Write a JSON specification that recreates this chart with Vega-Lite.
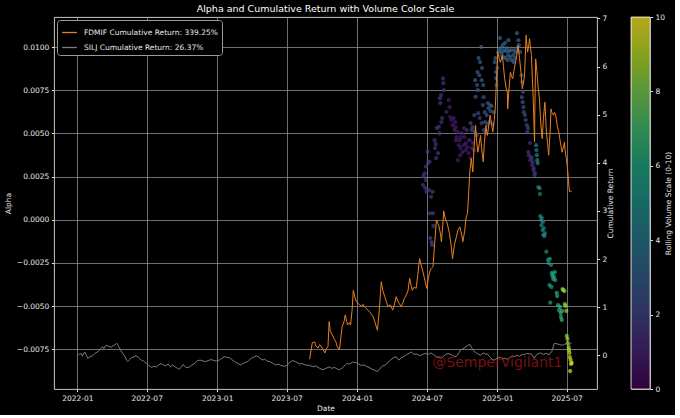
{
"$schema": "https://vega.github.io/schema/vega-lite/v6.json",
"background": "#000000",
"padding": {"left": 4, "top": 3, "right": 2, "bottom": 2},
"bounds": "flush",
"spacing": 34,
"config": {
  "font": "DejaVu Sans",
  "view": {"stroke": "#dddddd", "strokeWidth": 0.9},
  "axis": {"labelColor": "#e8e8e8", "titleColor": "#e8e8e8", "labelFontSize": 7.5, "titleFontSize": 7.5, "titleFontWeight": "normal", "tickColor": "#dddddd", "domainColor": "#dddddd", "tickSize": 2.6, "labelPadding": 2.5, "gridColor": "#8c8c8c", "gridWidth": 0.8, "domain": false},
  "legend": {"labelColor": "#e8e8e8", "labelFontSize": 7.5}
},
"datasets": {
"alpha": [
{"d":"2024-06-21","a":0.00201,"v":1.6},{"d":"2024-06-22","a":0.00253,"v":1.6},{"d":"2024-06-25","a":0.00269,"v":1.6},{"d":"2024-06-27","a":0.00183,"v":1.6},{"d":"2024-06-28","a":0.00230,"v":1.6},{"d":"2024-06-29","a":0.00307,"v":1.6},{"d":"2024-06-30","a":0.00162,"v":1.6},{"d":"2024-07-03","a":0.00394,"v":1.7},{"d":"2024-07-04","a":0.00328,"v":1.6},{"d":"2024-07-07","a":0.00172,"v":1.6},{"d":"2024-07-08","a":0.00336,"v":1.6},{"d":"2024-07-09","a":0.00037,"v":1.8},{"d":"2024-07-10","a":-0.00106,"v":1.8},{"d":"2024-07-12","a":0.00133,"v":1.7},{"d":"2024-07-13","a":-0.00129,"v":1.8},{"d":"2024-07-15","a":-0.00146,"v":1.8},{"d":"2024-07-16","a":0.00162,"v":1.7},{"d":"2024-07-17","a":0.00037,"v":1.8},{"d":"2024-07-18","a":-0.00036,"v":1.8},{"d":"2024-07-21","a":0.00461,"v":1.5},{"d":"2024-07-22","a":0.00415,"v":1.5},{"d":"2024-07-24","a":0.00438,"v":1.5},{"d":"2024-07-25","a":0.00357,"v":1.5},{"d":"2024-07-27","a":0.00531,"v":1.5},{"d":"2024-07-30","a":0.00386,"v":1.5},{"d":"2024-08-01","a":0.00538,"v":1.5},{"d":"2024-08-03","a":0.00500,"v":1.5},{"d":"2024-08-04","a":0.00704,"v":1.4},{"d":"2024-08-05","a":0.00675,"v":1.4},{"d":"2024-08-07","a":0.00722,"v":1.4},{"d":"2024-08-08","a":0.00565,"v":1.4},{"d":"2024-08-10","a":0.00589,"v":1.4},{"d":"2024-08-12","a":0.00818,"v":1.4},{"d":"2024-08-13","a":0.00791,"v":1.4},{"d":"2024-08-14","a":0.00751,"v":1.4},{"d":"2024-08-21","a":0.00625,"v":1.0},{"d":"2024-08-27","a":0.00693,"v":0.9},{"d":"2024-08-29","a":0.00652,"v":0.9},
{"d":"2024-08-31","a":0.00594,"v":0.7},{"d":"2024-09-03","a":0.00577,"v":0.7},{"d":"2024-09-06","a":0.00548,"v":0.7},{"d":"2024-09-09","a":0.00589,"v":0.7},{"d":"2024-09-11","a":0.00519,"v":0.7},{"d":"2024-09-13","a":0.00565,"v":0.7},{"d":"2024-09-14","a":0.00536,"v":0.7},{"d":"2024-09-15","a":0.00461,"v":0.7},{"d":"2024-09-17","a":0.00479,"v":0.7},{"d":"2024-09-19","a":0.00508,"v":0.7},{"d":"2024-09-20","a":0.00345,"v":0.8},{"d":"2024-09-22","a":0.00432,"v":0.7},{"d":"2024-09-24","a":0.00461,"v":0.7},{"d":"2024-09-26","a":0.00374,"v":0.8},{"d":"2024-09-27","a":0.00415,"v":0.7},{"d":"2024-09-28","a":0.00479,"v":0.7},{"d":"2024-09-30","a":0.00502,"v":0.7},{"d":"2024-10-02","a":0.00392,"v":0.8},{"d":"2024-10-05","a":0.00432,"v":0.7},{"d":"2024-10-06","a":0.00531,"v":0.8},{"d":"2024-10-07","a":0.00479,"v":0.7},{"d":"2024-10-10","a":0.00403,"v":0.7},{"d":"2024-10-11","a":0.00444,"v":0.7},{"d":"2024-10-13","a":0.00519,"v":1.3},{"d":"2024-10-15","a":0.00421,"v":0.8},{"d":"2024-10-18","a":0.00386,"v":0.8},{"d":"2024-10-20","a":0.00461,"v":1.3},{"d":"2024-10-23","a":0.00357,"v":0.8},{"d":"2024-10-26","a":0.00415,"v":0.8},{"d":"2024-10-29","a":0.00444,"v":1.1},{"d":"2024-11-01","a":0.00403,"v":1.1},
{"d":"2024-10-23","a":0.00560,"v":2.2},{"d":"2024-10-26","a":0.00519,"v":2.2},{"d":"2024-10-28","a":0.00536,"v":2.3},{"d":"2024-11-02","a":0.00606,"v":2.5},{"d":"2024-11-03","a":0.00508,"v":2.3},{"d":"2024-11-04","a":0.00808,"v":2.8},{"d":"2024-11-05","a":0.00712,"v":2.7},{"d":"2024-11-08","a":0.00490,"v":2.3},{"d":"2024-11-09","a":0.00780,"v":2.8},{"d":"2024-11-10","a":0.00855,"v":2.9},{"d":"2024-11-11","a":0.00751,"v":2.8},{"d":"2024-11-12","a":0.00617,"v":2.1},{"d":"2024-11-13","a":0.00936,"v":3.0},{"d":"2024-11-15","a":0.00837,"v":2.9},{"d":"2024-11-16","a":0.00589,"v":2.0},{"d":"2024-11-17","a":0.00913,"v":3.0},{"d":"2024-11-20","a":0.01001,"v":3.1},{"d":"2024-11-21","a":0.00560,"v":2.0},{"d":"2024-11-21","a":0.00808,"v":2.9},{"d":"2024-11-22","a":0.00878,"v":2.9},{"d":"2024-11-24","a":0.00664,"v":2.7},{"d":"2024-11-25","a":0.00780,"v":2.8},{"d":"2024-11-26","a":0.00710,"v":2.7},{"d":"2024-11-27","a":0.00519,"v":2.4},{"d":"2024-11-29","a":0.00623,"v":2.6},{"d":"2024-11-30","a":0.00565,"v":2.5},{"d":"2024-12-01","a":0.00502,"v":2.4},{"d":"2024-12-04","a":0.00606,"v":2.7},{"d":"2024-12-07","a":0.00675,"v":2.8},{"d":"2024-12-08","a":0.00554,"v":2.6},{"d":"2024-12-09","a":0.00646,"v":2.8},{"d":"2024-12-12","a":0.00565,"v":2.7},{"d":"2024-12-13","a":0.00664,"v":2.8},{"d":"2024-12-14","a":0.00629,"v":2.8},{"d":"2024-12-17","a":0.00658,"v":2.9},{"d":"2024-12-20","a":0.00554,"v":2.8},{"d":"2024-12-22","a":0.00623,"v":2.9},{"d":"2024-12-25","a":0.00913,"v":3.1},{"d":"2024-12-27","a":0.00936,"v":3.1},{"d":"2024-12-28","a":0.00855,"v":3.0},{"d":"2024-12-29","a":0.00820,"v":3.0},{"d":"2024-12-30","a":0.00780,"v":3.0},
{"d":"2025-01-01","a":0.00878,"v":3.1},{"d":"2025-01-03","a":0.00970,"v":3.1},{"d":"2025-01-05","a":0.00982,"v":3.2},{"d":"2025-01-08","a":0.01052,"v":3.2},{"d":"2025-01-10","a":0.00994,"v":3.2},{"d":"2025-01-12","a":0.00953,"v":3.2},{"d":"2025-01-13","a":0.00970,"v":3.2},{"d":"2025-01-15","a":0.01011,"v":3.2},{"d":"2025-01-17","a":0.00942,"v":3.2},{"d":"2025-01-18","a":0.00982,"v":3.2},{"d":"2025-01-21","a":0.01023,"v":3.2},{"d":"2025-01-22","a":0.00936,"v":3.2},{"d":"2025-01-24","a":0.00976,"v":3.2},{"d":"2025-01-26","a":0.00994,"v":3.2},{"d":"2025-01-28","a":0.00924,"v":3.1},{"d":"2025-01-29","a":0.00953,"v":3.1},{"d":"2025-01-30","a":0.01040,"v":3.2},{"d":"2025-02-01","a":0.00976,"v":3.1},{"d":"2025-02-03","a":0.00942,"v":3.1},{"d":"2025-02-05","a":0.00982,"v":3.1},{"d":"2025-02-08","a":0.00924,"v":3.1},{"d":"2025-02-11","a":0.00953,"v":3.1},{"d":"2025-02-12","a":0.00913,"v":3.0},{"d":"2025-02-13","a":0.00982,"v":3.1},{"d":"2025-02-16","a":0.00936,"v":3.0},{"d":"2025-02-18","a":0.00970,"v":3.0},{"d":"2025-02-21","a":0.01080,"v":3.1},{"d":"2025-02-22","a":0.00994,"v":3.0},{"d":"2025-02-25","a":0.01040,"v":3.0},{"d":"2025-02-26","a":0.01011,"v":3.0},{"d":"2025-03-01","a":0.00972,"v":3.0},
{"d":"2025-03-05","a":0.00837,"v":2.9},{"d":"2025-03-06","a":0.00710,"v":2.6},{"d":"2025-03-07","a":0.00797,"v":2.8},{"d":"2025-03-08","a":0.00681,"v":2.5},{"d":"2025-03-09","a":0.00741,"v":2.6},{"d":"2025-03-10","a":0.00652,"v":2.4},{"d":"2025-03-11","a":0.00623,"v":2.4},{"d":"2025-03-14","a":0.00606,"v":2.3},{"d":"2025-03-16","a":0.00577,"v":2.2},{"d":"2025-03-19","a":0.00548,"v":2.1},{"d":"2025-03-20","a":0.00508,"v":2.0},{"d":"2025-03-22","a":0.00531,"v":2.0},{"d":"2025-03-23","a":0.00392,"v":1.4},{"d":"2025-03-24","a":0.00374,"v":1.4},{"d":"2025-03-27","a":0.00444,"v":1.3},{"d":"2025-03-28","a":0.00345,"v":1.4},{"d":"2025-03-29","a":0.00363,"v":1.4},{"d":"2025-04-01","a":0.00357,"v":1.4},{"d":"2025-04-02","a":0.00317,"v":1.4},{"d":"2025-04-03","a":0.00334,"v":1.5},{"d":"2025-04-05","a":0.00288,"v":1.5},{"d":"2025-04-06","a":0.00299,"v":1.5},{"d":"2025-04-08","a":0.00259,"v":1.5},{"d":"2025-04-09","a":0.00270,"v":1.6},
{"d":"2025-04-12","a":0.00432,"v":4.3},{"d":"2025-04-13","a":0.00403,"v":4.3},{"d":"2025-04-14","a":0.00374,"v":4.4},{"d":"2025-04-15","a":0.00345,"v":4.4},{"d":"2025-04-16","a":0.00328,"v":4.4},{"d":"2025-04-18","a":0.00189,"v":4.5},{"d":"2025-04-21","a":0.00183,"v":4.5},{"d":"2025-04-22","a":0.00149,"v":4.5},{"d":"2025-04-23","a":0.00021,"v":4.5},{"d":"2025-04-25","a":-0.00002,"v":4.6},{"d":"2025-04-26","a":-0.00031,"v":4.6},{"d":"2025-04-27","a":0.00010,"v":4.6},{"d":"2025-04-29","a":-0.00060,"v":4.6},{"d":"2025-04-30","a":-0.00013,"v":4.6},{"d":"2025-05-01","a":-0.00089,"v":4.7},{"d":"2025-05-02","a":-0.00048,"v":4.7},{"d":"2025-05-04","a":-0.00094,"v":4.7},{"d":"2025-05-05","a":-0.00077,"v":4.8},{"d":"2025-05-09","a":-0.00185,"v":5.0},{"d":"2025-05-13","a":-0.00233,"v":5.2},{"d":"2025-05-15","a":-0.00251,"v":5.3},{"d":"2025-05-18","a":-0.00227,"v":5.3},{"d":"2025-05-21","a":-0.00262,"v":5.4},
{"d":"2025-05-17","a":-0.00378,"v":5.6},{"d":"2025-05-19","a":-0.00480,"v":5.7},{"d":"2025-05-22","a":-0.00389,"v":5.7},{"d":"2025-05-23","a":-0.00308,"v":5.8},{"d":"2025-05-24","a":-0.00326,"v":5.8},{"d":"2025-05-26","a":-0.00314,"v":5.9},{"d":"2025-05-27","a":-0.00343,"v":6.0},{"d":"2025-05-29","a":-0.00332,"v":6.0},{"d":"2025-05-31","a":-0.00303,"v":6.0},{"d":"2025-06-01","a":-0.00349,"v":6.1},{"d":"2025-06-05","a":-0.00424,"v":6.3},{"d":"2025-06-06","a":-0.00442,"v":6.3},{"d":"2025-06-08","a":-0.00494,"v":6.5},{"d":"2025-06-11","a":-0.00523,"v":6.5},{"d":"2025-06-13","a":-0.00505,"v":6.6},{"d":"2025-06-15","a":-0.00540,"v":6.6},{"d":"2025-06-16","a":-0.00563,"v":6.7},{"d":"2025-06-18","a":-0.00580,"v":6.8},{"d":"2025-06-19","a":-0.00528,"v":6.8},{"d":"2025-06-20","a":-0.00401,"v":8.3},{"d":"2025-06-22","a":-0.00407,"v":8.4},{"d":"2025-06-25","a":-0.00413,"v":8.5},{"d":"2025-06-26","a":-0.00488,"v":8.3},{"d":"2025-06-28","a":-0.00499,"v":8.4},{"d":"2025-06-30","a":-0.00528,"v":8.4},{"d":"2025-07-01","a":-0.00673,"v":8.5},{"d":"2025-07-03","a":-0.00690,"v":8.6},{"d":"2025-07-04","a":-0.00714,"v":8.8},{"d":"2025-07-06","a":-0.00737,"v":8.9},{"d":"2025-07-07","a":-0.00754,"v":9.0},{"d":"2025-07-08","a":-0.00771,"v":9.2},{"d":"2025-07-09","a":-0.00795,"v":9.3},{"d":"2025-07-10","a":-0.00876,"v":9.7},{"d":"2025-07-11","a":-0.00812,"v":9.4},{"d":"2025-07-12","a":-0.00835,"v":9.5},{"d":"2025-07-14","a":-0.00829,"v":9.6}
],
"cum": [
{"s":"SILJ","d":"2022-01-03","r":0.00},{"s":"SILJ","d":"2022-01-07","r":0.03},{"s":"SILJ","d":"2022-01-11","r":0.04},{"s":"SILJ","d":"2022-01-14","r":-0.02},{"s":"SILJ","d":"2022-01-20","r":0.07},{"s":"SILJ","d":"2022-01-24","r":0.01},{"s":"SILJ","d":"2022-01-28","r":-0.06},{"s":"SILJ","d":"2022-02-03","r":-0.03},{"s":"SILJ","d":"2022-02-10","r":-0.01},{"s":"SILJ","d":"2022-02-16","r":0.04},{"s":"SILJ","d":"2022-02-23","r":0.07},{"s":"SILJ","d":"2022-03-01","r":0.12},{"s":"SILJ","d":"2022-03-08","r":0.18},{"s":"SILJ","d":"2022-03-11","r":0.14},{"s":"SILJ","d":"2022-03-17","r":0.21},{"s":"SILJ","d":"2022-03-23","r":0.19},{"s":"SILJ","d":"2022-03-30","r":0.17},{"s":"SILJ","d":"2022-04-05","r":0.20},{"s":"SILJ","d":"2022-04-11","r":0.23},{"s":"SILJ","d":"2022-04-14","r":0.25},{"s":"SILJ","d":"2022-04-19","r":0.18},{"s":"SILJ","d":"2022-04-25","r":0.09},{"s":"SILJ","d":"2022-04-29","r":0.04},{"s":"SILJ","d":"2022-05-05","r":-0.02},{"s":"SILJ","d":"2022-05-09","r":-0.10},{"s":"SILJ","d":"2022-05-13","r":-0.13},{"s":"SILJ","d":"2022-05-17","r":-0.09},{"s":"SILJ","d":"2022-05-20","r":-0.06},{"s":"SILJ","d":"2022-05-26","r":-0.04},{"s":"SILJ","d":"2022-06-03","r":-0.01},{"s":"SILJ","d":"2022-06-09","r":-0.04},{"s":"SILJ","d":"2022-06-17","r":-0.10},{"s":"SILJ","d":"2022-06-23","r":-0.12},{"s":"SILJ","d":"2022-06-30","r":-0.17},{"s":"SILJ","d":"2022-07-06","r":-0.21},{"s":"SILJ","d":"2022-07-13","r":-0.25},{"s":"SILJ","d":"2022-07-19","r":-0.23},{"s":"SILJ","d":"2022-07-26","r":-0.24},{"s":"SILJ","d":"2022-08-01","r":-0.20},{"s":"SILJ","d":"2022-08-08","r":-0.17},{"s":"SILJ","d":"2022-08-12","r":-0.19},{"s":"SILJ","d":"2022-08-19","r":-0.22},{"s":"SILJ","d":"2022-08-26","r":-0.18},{"s":"SILJ","d":"2022-09-01","r":-0.24},{"s":"SILJ","d":"2022-09-07","r":-0.20},{"s":"SILJ","d":"2022-09-13","r":-0.24},{"s":"SILJ","d":"2022-09-19","r":-0.27},{"s":"SILJ","d":"2022-09-23","r":-0.29},{"s":"SILJ","d":"2022-09-29","r":-0.25},{"s":"SILJ","d":"2022-10-04","r":-0.19},{"s":"SILJ","d":"2022-10-07","r":-0.22},{"s":"SILJ","d":"2022-10-14","r":-0.26},{"s":"SILJ","d":"2022-10-21","r":-0.24},{"s":"SILJ","d":"2022-10-27","r":-0.20},{"s":"SILJ","d":"2022-11-02","r":-0.18},{"s":"SILJ","d":"2022-11-07","r":-0.13},{"s":"SILJ","d":"2022-11-11","r":-0.11},{"s":"SILJ","d":"2022-11-18","r":-0.10},{"s":"SILJ","d":"2022-11-25","r":-0.12},{"s":"SILJ","d":"2022-12-02","r":-0.13},{"s":"SILJ","d":"2022-12-08","r":-0.11},{"s":"SILJ","d":"2022-12-15","r":-0.09},{"s":"SILJ","d":"2022-12-21","r":-0.10},{"s":"SILJ","d":"2022-12-29","r":-0.12},{"s":"SILJ","d":"2023-01-06","r":-0.10},{"s":"SILJ","d":"2023-01-12","r":-0.07},{"s":"SILJ","d":"2023-01-20","r":-0.03},{"s":"SILJ","d":"2023-01-26","r":-0.04},{"s":"SILJ","d":"2023-02-02","r":-0.05},{"s":"SILJ","d":"2023-02-08","r":-0.09},{"s":"SILJ","d":"2023-02-15","r":-0.13},{"s":"SILJ","d":"2023-02-22","r":-0.16},{"s":"SILJ","d":"2023-03-03","r":-0.20},{"s":"SILJ","d":"2023-03-09","r":-0.17},{"s":"SILJ","d":"2023-03-15","r":-0.15},{"s":"SILJ","d":"2023-03-22","r":-0.13},{"s":"SILJ","d":"2023-03-29","r":-0.07},{"s":"SILJ","d":"2023-04-06","r":-0.04},{"s":"SILJ","d":"2023-04-13","r":-0.01},{"s":"SILJ","d":"2023-04-20","r":-0.04},{"s":"SILJ","d":"2023-04-28","r":-0.10},{"s":"SILJ","d":"2023-05-05","r":-0.08},{"s":"SILJ","d":"2023-05-11","r":-0.12},{"s":"SILJ","d":"2023-05-18","r":-0.13},{"s":"SILJ","d":"2023-05-25","r":-0.16},{"s":"SILJ","d":"2023-06-02","r":-0.20},{"s":"SILJ","d":"2023-06-09","r":-0.18},{"s":"SILJ","d":"2023-06-16","r":-0.21},{"s":"SILJ","d":"2023-06-26","r":-0.23},{"s":"SILJ","d":"2023-07-03","r":-0.20},{"s":"SILJ","d":"2023-07-10","r":-0.14},{"s":"SILJ","d":"2023-07-17","r":-0.11},{"s":"SILJ","d":"2023-07-24","r":-0.13},{"s":"SILJ","d":"2023-08-04","r":-0.18},{"s":"SILJ","d":"2023-08-11","r":-0.17},{"s":"SILJ","d":"2023-08-18","r":-0.20},{"s":"SILJ","d":"2023-08-30","r":-0.21},{"s":"SILJ","d":"2023-09-08","r":-0.24},{"s":"SILJ","d":"2023-09-15","r":-0.22},{"s":"SILJ","d":"2023-09-25","r":-0.27},{"s":"SILJ","d":"2023-10-04","r":-0.30},{"s":"SILJ","d":"2023-10-12","r":-0.27},{"s":"SILJ","d":"2023-10-20","r":-0.24},{"s":"SILJ","d":"2023-10-27","r":-0.27},{"s":"SILJ","d":"2023-11-03","r":-0.25},{"s":"SILJ","d":"2023-11-09","r":-0.28},{"s":"SILJ","d":"2023-11-16","r":-0.30},{"s":"SILJ","d":"2023-11-24","r":-0.26},{"s":"SILJ","d":"2023-12-01","r":-0.20},{"s":"SILJ","d":"2023-12-06","r":-0.17},{"s":"SILJ","d":"2023-12-12","r":-0.18},{"s":"SILJ","d":"2023-12-20","r":-0.14},{"s":"SILJ","d":"2023-12-29","r":-0.15},{"s":"SILJ","d":"2024-01-05","r":-0.18},{"s":"SILJ","d":"2024-01-12","r":-0.21},{"s":"SILJ","d":"2024-01-19","r":-0.20},{"s":"SILJ","d":"2024-01-25","r":-0.23},{"s":"SILJ","d":"2024-02-01","r":-0.25},{"s":"SILJ","d":"2024-02-09","r":-0.29},{"s":"SILJ","d":"2024-02-16","r":-0.31},{"s":"SILJ","d":"2024-02-23","r":-0.34},{"s":"SILJ","d":"2024-03-01","r":-0.27},{"s":"SILJ","d":"2024-03-08","r":-0.22},{"s":"SILJ","d":"2024-03-15","r":-0.20},{"s":"SILJ","d":"2024-03-22","r":-0.14},{"s":"SILJ","d":"2024-03-28","r":-0.10},{"s":"SILJ","d":"2024-04-05","r":-0.05},{"s":"SILJ","d":"2024-04-12","r":-0.03},{"s":"SILJ","d":"2024-04-19","r":-0.10},{"s":"SILJ","d":"2024-04-26","r":-0.05},{"s":"SILJ","d":"2024-05-03","r":-0.02},{"s":"SILJ","d":"2024-05-10","r":0.02},{"s":"SILJ","d":"2024-05-17","r":0.05},{"s":"SILJ","d":"2024-05-21","r":0.07},{"s":"SILJ","d":"2024-05-28","r":0.02},{"s":"SILJ","d":"2024-06-04","r":0.03},{"s":"SILJ","d":"2024-06-12","r":-0.01},{"s":"SILJ","d":"2024-06-20","r":0.02},{"s":"SILJ","d":"2024-06-27","r":0.04},{"s":"SILJ","d":"2024-07-05","r":0.02},{"s":"SILJ","d":"2024-07-12","r":0.05},{"s":"SILJ","d":"2024-07-19","r":0.01},{"s":"SILJ","d":"2024-07-26","r":-0.03},{"s":"SILJ","d":"2024-08-02","r":-0.05},{"s":"SILJ","d":"2024-08-08","r":-0.06},{"s":"SILJ","d":"2024-08-15","r":-0.01},{"s":"SILJ","d":"2024-08-22","r":0.03},{"s":"SILJ","d":"2024-08-29","r":0.03},{"s":"SILJ","d":"2024-09-06","r":0.00},{"s":"SILJ","d":"2024-09-12","r":-0.03},{"s":"SILJ","d":"2024-09-16","r":-0.02},{"s":"SILJ","d":"2024-09-23","r":0.06},{"s":"SILJ","d":"2024-09-27","r":0.11},{"s":"SILJ","d":"2024-10-04","r":0.14},{"s":"SILJ","d":"2024-10-11","r":0.18},{"s":"SILJ","d":"2024-10-21","r":0.23},{"s":"SILJ","d":"2024-10-25","r":0.17},{"s":"SILJ","d":"2024-10-31","r":0.09},{"s":"SILJ","d":"2024-11-05","r":0.06},{"s":"SILJ","d":"2024-11-11","r":0.03},{"s":"SILJ","d":"2024-11-18","r":0.00},{"s":"SILJ","d":"2024-11-25","r":0.05},{"s":"SILJ","d":"2024-12-02","r":0.02},{"s":"SILJ","d":"2024-12-06","r":0.03},{"s":"SILJ","d":"2024-12-12","r":-0.03},{"s":"SILJ","d":"2024-12-18","r":-0.08},{"s":"SILJ","d":"2024-12-24","r":-0.10},{"s":"SILJ","d":"2024-12-31","r":-0.06},{"s":"SILJ","d":"2025-01-08","r":-0.04},{"s":"SILJ","d":"2025-01-14","r":-0.08},{"s":"SILJ","d":"2025-01-20","r":-0.06},{"s":"SILJ","d":"2025-01-27","r":-0.08},{"s":"SILJ","d":"2025-02-03","r":-0.04},{"s":"SILJ","d":"2025-02-10","r":-0.01},{"s":"SILJ","d":"2025-02-14","r":-0.03},{"s":"SILJ","d":"2025-02-21","r":0.00},{"s":"SILJ","d":"2025-02-28","r":-0.02},{"s":"SILJ","d":"2025-03-07","r":0.02},{"s":"SILJ","d":"2025-03-12","r":0.01},{"s":"SILJ","d":"2025-03-18","r":0.04},{"s":"SILJ","d":"2025-03-25","r":0.03},{"s":"SILJ","d":"2025-04-01","r":0.02},{"s":"SILJ","d":"2025-04-07","r":-0.06},{"s":"SILJ","d":"2025-04-11","r":-0.01},{"s":"SILJ","d":"2025-04-17","r":0.03},{"s":"SILJ","d":"2025-04-24","r":0.05},{"s":"SILJ","d":"2025-05-01","r":0.02},{"s":"SILJ","d":"2025-05-09","r":0.04},{"s":"SILJ","d":"2025-05-16","r":0.01},{"s":"SILJ","d":"2025-05-23","r":0.08},{"s":"SILJ","d":"2025-05-30","r":0.25},{"s":"SILJ","d":"2025-06-05","r":0.24},{"s":"SILJ","d":"2025-06-13","r":0.22},{"s":"SILJ","d":"2025-06-20","r":0.21},{"s":"SILJ","d":"2025-06-26","r":0.23},{"s":"SILJ","d":"2025-07-03","r":0.25},{"s":"SILJ","d":"2025-07-08","r":0.22},{"s":"SILJ","d":"2025-07-14","r":0.26},
{"s":"FDMIF","d":"2023-08-30","r":-0.08},{"s":"FDMIF","d":"2023-09-06","r":0.26},{"s":"FDMIF","d":"2023-09-12","r":0.28},{"s":"FDMIF","d":"2023-09-15","r":0.20},{"s":"FDMIF","d":"2023-09-21","r":0.15},{"s":"FDMIF","d":"2023-09-25","r":0.22},{"s":"FDMIF","d":"2023-09-29","r":0.19},{"s":"FDMIF","d":"2023-10-04","r":0.12},{"s":"FDMIF","d":"2023-10-09","r":0.05},{"s":"FDMIF","d":"2023-10-13","r":0.14},{"s":"FDMIF","d":"2023-10-17","r":0.18},{"s":"FDMIF","d":"2023-10-20","r":0.70},{"s":"FDMIF","d":"2023-10-23","r":0.50},{"s":"FDMIF","d":"2023-10-26","r":0.46},{"s":"FDMIF","d":"2023-10-31","r":0.38},{"s":"FDMIF","d":"2023-11-03","r":0.33},{"s":"FDMIF","d":"2023-11-07","r":0.27},{"s":"FDMIF","d":"2023-11-10","r":0.18},{"s":"FDMIF","d":"2023-11-16","r":0.11},{"s":"FDMIF","d":"2023-11-20","r":0.40},{"s":"FDMIF","d":"2023-11-23","r":0.59},{"s":"FDMIF","d":"2023-11-28","r":0.70},{"s":"FDMIF","d":"2023-12-01","r":0.84},{"s":"FDMIF","d":"2023-12-05","r":0.70},{"s":"FDMIF","d":"2023-12-07","r":0.63},{"s":"FDMIF","d":"2023-12-12","r":0.68},{"s":"FDMIF","d":"2023-12-15","r":0.63},{"s":"FDMIF","d":"2023-12-19","r":0.95},{"s":"FDMIF","d":"2023-12-22","r":1.35},{"s":"FDMIF","d":"2023-12-28","r":1.15},{"s":"FDMIF","d":"2024-01-03","r":1.08},{"s":"FDMIF","d":"2024-01-08","r":1.05},{"s":"FDMIF","d":"2024-01-12","r":1.01},{"s":"FDMIF","d":"2024-01-16","r":1.06},{"s":"FDMIF","d":"2024-01-19","r":1.02},{"s":"FDMIF","d":"2024-01-24","r":0.98},{"s":"FDMIF","d":"2024-01-29","r":0.94},{"s":"FDMIF","d":"2024-02-05","r":0.88},{"s":"FDMIF","d":"2024-02-12","r":0.80},{"s":"FDMIF","d":"2024-02-16","r":0.70},{"s":"FDMIF","d":"2024-02-23","r":0.52},{"s":"FDMIF","d":"2024-02-28","r":0.95},{"s":"FDMIF","d":"2024-03-04","r":1.53},{"s":"FDMIF","d":"2024-03-08","r":1.35},{"s":"FDMIF","d":"2024-03-13","r":1.22},{"s":"FDMIF","d":"2024-03-18","r":1.10},{"s":"FDMIF","d":"2024-03-21","r":1.01},{"s":"FDMIF","d":"2024-03-27","r":1.05},{"s":"FDMIF","d":"2024-04-03","r":0.94},{"s":"FDMIF","d":"2024-04-08","r":1.08},{"s":"FDMIF","d":"2024-04-12","r":1.22},{"s":"FDMIF","d":"2024-04-18","r":1.10},{"s":"FDMIF","d":"2024-04-25","r":1.01},{"s":"FDMIF","d":"2024-04-30","r":1.10},{"s":"FDMIF","d":"2024-05-03","r":1.18},{"s":"FDMIF","d":"2024-05-08","r":1.25},{"s":"FDMIF","d":"2024-05-13","r":1.35},{"s":"FDMIF","d":"2024-05-17","r":1.60},{"s":"FDMIF","d":"2024-05-21","r":1.45},{"s":"FDMIF","d":"2024-05-24","r":1.35},{"s":"FDMIF","d":"2024-05-29","r":1.42},{"s":"FDMIF","d":"2024-06-03","r":1.39},{"s":"FDMIF","d":"2024-06-07","r":1.65},{"s":"FDMIF","d":"2024-06-12","r":2.01},{"s":"FDMIF","d":"2024-06-17","r":1.85},{"s":"FDMIF","d":"2024-06-21","r":1.73},{"s":"FDMIF","d":"2024-06-26","r":1.55},{"s":"FDMIF","d":"2024-07-01","r":1.39},{"s":"FDMIF","d":"2024-07-05","r":1.60},{"s":"FDMIF","d":"2024-07-08","r":1.73},{"s":"FDMIF","d":"2024-07-12","r":1.80},{"s":"FDMIF","d":"2024-07-17","r":1.84},{"s":"FDMIF","d":"2024-07-22","r":2.40},{"s":"FDMIF","d":"2024-07-26","r":2.81},{"s":"FDMIF","d":"2024-07-30","r":2.74},{"s":"FDMIF","d":"2024-08-02","r":2.67},{"s":"FDMIF","d":"2024-08-06","r":2.50},{"s":"FDMIF","d":"2024-08-08","r":2.36},{"s":"FDMIF","d":"2024-08-12","r":2.75},{"s":"FDMIF","d":"2024-08-14","r":3.00},{"s":"FDMIF","d":"2024-08-19","r":2.81},{"s":"FDMIF","d":"2024-08-23","r":2.75},{"s":"FDMIF","d":"2024-08-29","r":2.53},{"s":"FDMIF","d":"2024-09-03","r":2.25},{"s":"FDMIF","d":"2024-09-06","r":2.01},{"s":"FDMIF","d":"2024-09-11","r":2.30},{"s":"FDMIF","d":"2024-09-16","r":2.46},{"s":"FDMIF","d":"2024-09-20","r":2.60},{"s":"FDMIF","d":"2024-09-25","r":2.67},{"s":"FDMIF","d":"2024-09-30","r":2.50},{"s":"FDMIF","d":"2024-10-03","r":2.36},{"s":"FDMIF","d":"2024-10-08","r":2.60},{"s":"FDMIF","d":"2024-10-11","r":2.85},{"s":"FDMIF","d":"2024-10-15","r":2.95},{"s":"FDMIF","d":"2024-10-17","r":3.20},{"s":"FDMIF","d":"2024-10-21","r":3.81},{"s":"FDMIF","d":"2024-10-25","r":4.09},{"s":"FDMIF","d":"2024-10-29","r":3.81},{"s":"FDMIF","d":"2024-11-01","r":4.30},{"s":"FDMIF","d":"2024-11-05","r":4.78},{"s":"FDMIF","d":"2024-11-08","r":4.45},{"s":"FDMIF","d":"2024-11-11","r":4.22},{"s":"FDMIF","d":"2024-11-15","r":4.40},{"s":"FDMIF","d":"2024-11-18","r":4.57},{"s":"FDMIF","d":"2024-11-21","r":4.30},{"s":"FDMIF","d":"2024-11-25","r":4.02},{"s":"FDMIF","d":"2024-11-28","r":4.40},{"s":"FDMIF","d":"2024-12-02","r":4.78},{"s":"FDMIF","d":"2024-12-04","r":4.65},{"s":"FDMIF","d":"2024-12-06","r":4.57},{"s":"FDMIF","d":"2024-12-10","r":4.80},{"s":"FDMIF","d":"2024-12-13","r":4.99},{"s":"FDMIF","d":"2024-12-17","r":4.80},{"s":"FDMIF","d":"2024-12-20","r":4.64},{"s":"FDMIF","d":"2024-12-24","r":4.90},{"s":"FDMIF","d":"2024-12-27","r":5.19},{"s":"FDMIF","d":"2024-12-30","r":5.80},{"s":"FDMIF","d":"2025-01-02","r":6.30},{"s":"FDMIF","d":"2025-01-06","r":6.15},{"s":"FDMIF","d":"2025-01-09","r":6.09},{"s":"FDMIF","d":"2025-01-14","r":6.23},{"s":"FDMIF","d":"2025-01-17","r":6.00},{"s":"FDMIF","d":"2025-01-20","r":5.75},{"s":"FDMIF","d":"2025-01-24","r":5.55},{"s":"FDMIF","d":"2025-01-27","r":5.47},{"s":"FDMIF","d":"2025-01-28","r":5.12},{"s":"FDMIF","d":"2025-01-31","r":5.50},{"s":"FDMIF","d":"2025-02-04","r":5.88},{"s":"FDMIF","d":"2025-02-07","r":5.80},{"s":"FDMIF","d":"2025-02-10","r":5.75},{"s":"FDMIF","d":"2025-02-14","r":5.95},{"s":"FDMIF","d":"2025-02-19","r":6.16},{"s":"FDMIF","d":"2025-02-24","r":6.44},{"s":"FDMIF","d":"2025-02-28","r":6.16},{"s":"FDMIF","d":"2025-03-04","r":5.85},{"s":"FDMIF","d":"2025-03-07","r":5.54},{"s":"FDMIF","d":"2025-03-10","r":5.65},{"s":"FDMIF","d":"2025-03-13","r":5.82},{"s":"FDMIF","d":"2025-03-17","r":6.65},{"s":"FDMIF","d":"2025-03-19","r":6.45},{"s":"FDMIF","d":"2025-03-21","r":6.30},{"s":"FDMIF","d":"2025-03-24","r":6.45},{"s":"FDMIF","d":"2025-03-26","r":6.58},{"s":"FDMIF","d":"2025-03-31","r":6.23},{"s":"FDMIF","d":"2025-04-02","r":5.80},{"s":"FDMIF","d":"2025-04-04","r":5.47},{"s":"FDMIF","d":"2025-04-08","r":4.43},{"s":"FDMIF","d":"2025-04-09","r":5.20},{"s":"FDMIF","d":"2025-04-11","r":6.16},{"s":"FDMIF","d":"2025-04-14","r":5.90},{"s":"FDMIF","d":"2025-04-17","r":5.61},{"s":"FDMIF","d":"2025-04-21","r":5.30},{"s":"FDMIF","d":"2025-04-23","r":4.99},{"s":"FDMIF","d":"2025-04-25","r":4.75},{"s":"FDMIF","d":"2025-04-28","r":4.50},{"s":"FDMIF","d":"2025-05-01","r":4.90},{"s":"FDMIF","d":"2025-05-05","r":5.26},{"s":"FDMIF","d":"2025-05-07","r":4.95},{"s":"FDMIF","d":"2025-05-09","r":4.64},{"s":"FDMIF","d":"2025-05-12","r":4.40},{"s":"FDMIF","d":"2025-05-15","r":4.16},{"s":"FDMIF","d":"2025-05-19","r":4.70},{"s":"FDMIF","d":"2025-05-21","r":5.12},{"s":"FDMIF","d":"2025-05-23","r":5.05},{"s":"FDMIF","d":"2025-05-28","r":4.99},{"s":"FDMIF","d":"2025-05-30","r":5.05},{"s":"FDMIF","d":"2025-06-02","r":5.00},{"s":"FDMIF","d":"2025-06-04","r":4.90},{"s":"FDMIF","d":"2025-06-06","r":4.78},{"s":"FDMIF","d":"2025-06-10","r":4.65},{"s":"FDMIF","d":"2025-06-13","r":4.50},{"s":"FDMIF","d":"2025-06-16","r":4.35},{"s":"FDMIF","d":"2025-06-19","r":4.22},{"s":"FDMIF","d":"2025-06-23","r":4.35},{"s":"FDMIF","d":"2025-06-25","r":4.43},{"s":"FDMIF","d":"2025-06-27","r":4.25},{"s":"FDMIF","d":"2025-06-30","r":4.09},{"s":"FDMIF","d":"2025-07-03","r":3.88},{"s":"FDMIF","d":"2025-07-08","r":3.40},{"s":"FDMIF","d":"2025-07-11","r":3.42},{"s":"FDMIF","d":"2025-07-14","r":3.39}
]
},
"hconcat": [
{
  "width": 543,
  "height": 372,
  "title": {"text": "Alpha and Cumulative Return with Volume Color Scale", "fontSize": 9.5, "fontWeight": "normal", "color": "#ffffff", "offset": 1},
  "resolve": {"scale": {"y": "independent"}},
  "layer": [
    {
      "data": {"name": "alpha"},
      "mark": {"type": "circle", "size": 18, "opacity": 0.7},
      "encoding": {
        "x": {"field": "d", "type": "temporal",
              "scale": {"type": "utc", "domain": [{"year": 2021, "month": 11, "date": 1, "utc": true}, {"year": 2025, "month": 9, "date": 18, "utc": true}]},
              "axis": {"title": "Date", "labelExpr": "utcFormat(datum.value, '%Y-%m')", "grid": true, "titlePadding": 2.5,
                       "values": [{"year": 2022, "month": 1, "date": 1, "utc": true}, {"year": 2022, "month": 7, "date": 1, "utc": true}, {"year": 2023, "month": 1, "date": 1, "utc": true}, {"year": 2023, "month": 7, "date": 1, "utc": true}, {"year": 2024, "month": 1, "date": 1, "utc": true}, {"year": 2024, "month": 7, "date": 1, "utc": true}, {"year": 2025, "month": 1, "date": 1, "utc": true}, {"year": 2025, "month": 7, "date": 1, "utc": true}]}},
        "y": {"field": "a", "type": "quantitative",
              "scale": {"domain": [-0.0098, 0.01174], "nice": false, "zero": false},
              "axis": {"title": "Alpha", "orient": "left", "format": ".4f", "grid": true, "titlePadding": 3.5,
                       "values": [-0.0075, -0.005, -0.0025, 0, 0.0025, 0.005, 0.0075, 0.01]}},
        "fill": {"field": "v", "type": "quantitative", "scale": {"scheme": "viridis", "domain": [0, 10]}, "legend": null}
      }
    },
    {
      "layer": [
        {
          "data": {"name": "cum"},
          "mark": {"type": "line", "strokeWidth": 1},
          "encoding": {
            "x": {"field": "d", "type": "temporal"},
            "y": {"field": "r", "type": "quantitative",
                  "scale": {"domain": [-0.7, 7.03], "nice": false, "zero": false},
                  "axis": {"title": "Cumulative Return", "orient": "right", "grid": false, "titleAngle": 270, "titlePadding": 8,
                           "values": [0, 1, 2, 3, 4, 5, 6, 7]}},
            "stroke": {"field": "s", "type": "nominal",
                       "scale": {"domain": ["FDMIF", "SILJ"], "range": ["#e8801e", "#7c7c7c"]},
                       "legend": {"title": null, "orient": "top-left", "offset": 3, "padding": 4, "fillColor": "#000000", "strokeColor": "#9a9a9a", "cornerRadius": 3,
                                  "symbolType": "stroke", "symbolSize": 220, "symbolStrokeWidth": 1.3, "labelFontSize": 7.5, "labelColor": "#e8e8e8", "rowPadding": 3, "labelOffset": 6,
                                  "labelExpr": "datum.label == 'FDMIF' ? 'FDMIF Cumulative Return: 339.25%' : 'SILJ Cumulative Return: 26.37%'"}}
          }
        },
        {
          "data": {"values": [{"d": "2025-01-01", "r": -0.17, "t": "@SemperVigilant1"}]},
          "mark": {"type": "text", "fontSize": 14, "color": "#8e1414", "opacity": 0.85, "align": "center", "baseline": "middle"},
          "encoding": {
            "x": {"field": "d", "type": "temporal"},
            "y": {"field": "r", "type": "quantitative"},
            "text": {"field": "t"}
          }
        }
      ]
    }
  ]
},
{
  "width": 19,
  "height": 372,
  "data": {"values": [{"lo": 0, "hi": 10}]},
  "mark": {"type": "rect", "fillOpacity": 0.72, "stroke": "#cccccc", "strokeWidth": 0.8,
           "fill": {"gradient": "linear", "x1": 0, "y1": 1, "x2": 0, "y2": 0,
                    "stops": [{"offset": 0, "color": "#440154"}, {"offset": 0.1, "color": "#482475"}, {"offset": 0.2, "color": "#414487"}, {"offset": 0.3, "color": "#355f8d"}, {"offset": 0.4, "color": "#2a788e"}, {"offset": 0.5, "color": "#21918c"}, {"offset": 0.6, "color": "#22a884"}, {"offset": 0.7, "color": "#44bf70"}, {"offset": 0.8, "color": "#7ad151"}, {"offset": 0.9, "color": "#bddf26"}, {"offset": 1, "color": "#fde725"}]}},
  "encoding": {
    "y": {"field": "lo", "type": "quantitative", "scale": {"domain": [0, 10], "nice": false},
          "axis": {"title": "Rolling Volume Scale (0-10)", "orient": "right", "grid": false, "titleAngle": 270, "titlePadding": 8, "values": [0, 2, 4, 6, 8, 10]}},
    "y2": {"field": "hi"}
  }
}
]
}
